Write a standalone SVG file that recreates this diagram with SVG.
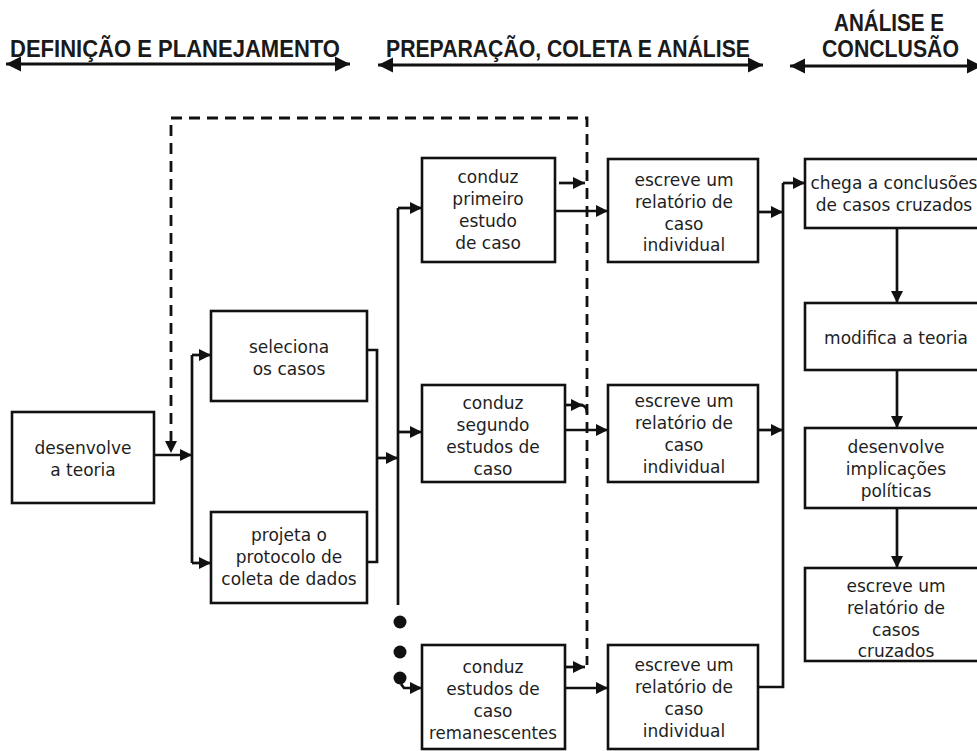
<svg xmlns="http://www.w3.org/2000/svg" width="977" height="751" viewBox="0 0 977 751">
<style>
.box{fill:#fff;stroke:#111;stroke-width:2.6}
.t{font-family:"DejaVu Sans",sans-serif;font-size:17px;fill:#1e1e1e;text-anchor:middle}
.h{font-family:"Liberation Sans",Arial,sans-serif;font-size:23px;font-weight:bold;fill:#1a1a1a}
.c{fill:none;stroke:#111;stroke-width:2.7}
.d{fill:none;stroke:#111;stroke-width:2.8;stroke-dasharray:11 7}
.hd{fill:none;stroke:#111;stroke-width:3.2}
</style>
<defs>
<marker id="ah" viewBox="0 0 10 10" refX="10" refY="5" markerWidth="13" markerHeight="12" markerUnits="userSpaceOnUse" orient="auto">
<path d="M0,0 L10,5 L0,10 z" fill="#111"/>
</marker>
<marker id="hh" viewBox="0 0 10 10" refX="10" refY="5" markerWidth="15" markerHeight="16" markerUnits="userSpaceOnUse" orient="auto-start-reverse">
<path d="M0,0 L10,5 L0,10 z" fill="#111"/>
</marker>
</defs>
<rect width="977" height="751" fill="#fff"/>
<g id="headers">
<text class="h" x="10" y="57" textLength="330" lengthAdjust="spacingAndGlyphs">DEFINIÇÃO E PLANEJAMENTO</text>
<line class="hd" x1="6" y1="64" x2="350" y2="64" marker-start="url(#hh)" marker-end="url(#hh)"/>
<text class="h" x="386" y="57" textLength="364" lengthAdjust="spacingAndGlyphs">PREPARAÇÃO, COLETA E ANÁLISE</text>
<line class="hd" x1="378" y1="65" x2="763" y2="65" marker-start="url(#hh)" marker-end="url(#hh)"/>
<text class="h" x="834" y="31" textLength="110" lengthAdjust="spacingAndGlyphs">ANÁLISE E</text>
<text class="h" x="822" y="57" textLength="137" lengthAdjust="spacingAndGlyphs">CONCLUSÃO</text>
<line class="hd" x1="790" y1="66" x2="982" y2="66" marker-start="url(#hh)" marker-end="url(#hh)"/>
</g>
<g id="connectors">
<path class="d" d="M171,442 V118 H587 V665"/>
<path d="M165,441 L177,441 L171,453 z" fill="#111"/>
<path class="c" d="M154,455 H192" marker-end="url(#ah)"/>
<path class="c" d="M192,355 V563"/>
<path class="c" d="M192,355 H211" marker-end="url(#ah)"/>
<path class="c" d="M192,563 H211" marker-end="url(#ah)"/>
<path class="c" d="M367,350 H377 V562 H367"/>
<path class="c" d="M377,458 H398" marker-end="url(#ah)"/>
<path class="c" d="M398,208 V605"/>
<path class="c" d="M398,208 H422" marker-end="url(#ah)"/>
<path class="c" d="M398,432 H422" marker-end="url(#ah)"/>
<circle cx="400" cy="622" r="6.5" fill="#111"/>
<circle cx="400" cy="652" r="6.5" fill="#111"/>
<circle cx="400" cy="678" r="6.5" fill="#111"/>
<path class="c" d="M401,684 L404,688 H422" marker-end="url(#ah)"/>
<path class="c" d="M559,183 H585" marker-end="url(#ah)"/>
<path class="c" d="M565,405 H583" marker-end="url(#ah)"/>
<path class="c" d="M580,405 Q587,405 587,413" stroke-width="2"/>
<path class="c" d="M565,667 H585" marker-end="url(#ah)"/>
<path class="c" d="M555,211 H608" marker-end="url(#ah)"/>
<path class="c" d="M565,430 H608" marker-end="url(#ah)"/>
<path class="c" d="M565,688 H608" marker-end="url(#ah)"/>
<path class="c" d="M758,212 H783" marker-end="url(#ah)"/>
<path class="c" d="M758,430 H783" marker-end="url(#ah)"/>
<path class="c" d="M758,687 H783 V183"/>
<path class="c" d="M783,183 H805" marker-end="url(#ah)"/>
<path class="c" d="M897,228 V303" marker-end="url(#ah)"/>
<path class="c" d="M897,370 V428" marker-end="url(#ah)"/>
<path class="c" d="M897,508 V568" marker-end="url(#ah)"/>
</g>
<g id="n-desenvolve-teoria">
<rect class="box" x="12" y="412" width="142" height="91"/>
<text class="t" x="83" y="454">desenvolve</text>
<text class="t" x="83" y="476">a teoria</text>
</g>
<g id="n-seleciona">
<rect class="box" x="211" y="311" width="156" height="90"/>
<text class="t" x="289" y="353">seleciona</text>
<text class="t" x="289" y="375">os casos</text>
</g>
<g id="n-projeta">
<rect class="box" x="211" y="512" width="156" height="91"/>
<text class="t" x="289" y="541">projeta o</text>
<text class="t" x="289" y="563">protocolo de</text>
<text class="t" x="289" y="585">coleta de dados</text>
</g>
<g id="n-conduz-primeiro">
<rect class="box" x="422" y="158" width="133" height="104"/>
<text class="t" x="488" y="183">conduz</text>
<text class="t" x="488" y="205">primeiro</text>
<text class="t" x="488" y="227">estudo</text>
<text class="t" x="488" y="249">de caso</text>
</g>
<g id="n-conduz-segundo">
<rect class="box" x="422" y="385" width="143" height="97"/>
<text class="t" x="493" y="409">conduz</text>
<text class="t" x="493" y="431">segundo</text>
<text class="t" x="493" y="453">estudos de</text>
<text class="t" x="493" y="475">caso</text>
</g>
<g id="n-conduz-remanescentes">
<rect class="box" x="422" y="645" width="143" height="104"/>
<text class="t" x="493" y="673">conduz</text>
<text class="t" x="493" y="695">estudos de</text>
<text class="t" x="493" y="717">caso</text>
<text class="t" x="493" y="739" textLength="128" lengthAdjust="spacingAndGlyphs">remanescentes</text>
</g>
<g id="n-escreve-1">
<rect class="box" x="608" y="159" width="150" height="103"/>
<text class="t" x="684" y="186">escreve um</text>
<text class="t" x="684" y="208">relatório de</text>
<text class="t" x="684" y="230">caso</text>
<text class="t" x="684" y="251">individual</text>
</g>
<g id="n-escreve-2">
<rect class="box" x="608" y="385" width="150" height="97"/>
<text class="t" x="684" y="407">escreve um</text>
<text class="t" x="684" y="429">relatório de</text>
<text class="t" x="684" y="451">caso</text>
<text class="t" x="684" y="473">individual</text>
</g>
<g id="n-escreve-3">
<rect class="box" x="608" y="645" width="150" height="104"/>
<text class="t" x="684" y="671">escreve um</text>
<text class="t" x="684" y="693">relatório de</text>
<text class="t" x="684" y="715">caso</text>
<text class="t" x="684" y="737">individual</text>
</g>
<g id="n-chega">
<rect class="box" x="805" y="159" width="185" height="69"/>
<text class="t" x="894" y="189">chega a conclusões</text>
<text class="t" x="894" y="211">de casos cruzados</text>
</g>
<g id="n-modifica">
<rect class="box" x="805" y="303" width="185" height="67"/>
<text class="t" x="896" y="344">modifica a teoria</text>
</g>
<g id="n-implicacoes">
<rect class="box" x="805" y="428" width="185" height="80"/>
<text class="t" x="896" y="453">desenvolve</text>
<text class="t" x="896" y="475">implicações</text>
<text class="t" x="896" y="497">políticas</text>
</g>
<g id="n-escreve-cruzados">
<rect class="box" x="805" y="568" width="185" height="93"/>
<text class="t" x="896" y="592">escreve um</text>
<text class="t" x="896" y="614">relatório de</text>
<text class="t" x="896" y="636">casos</text>
<text class="t" x="896" y="657">cruzados</text>
</g>
</svg>
